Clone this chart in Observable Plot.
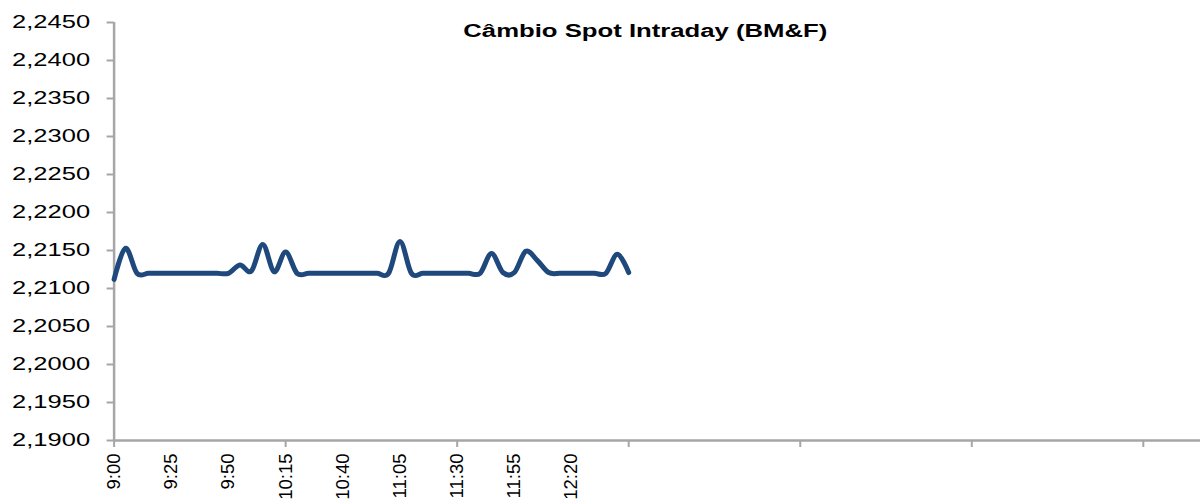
<!DOCTYPE html>
<html><head><meta charset="utf-8">
<script src="https://cdn.jsdelivr.net/npm/d3@7"></script>
<script src="https://cdn.jsdelivr.net/npm/@observablehq/plot@0.6"></script>
<style>
html,body{margin:0;padding:0;background:#fff;}
#chart svg g[aria-label="y-axis tick"], #chart svg g[aria-label="x-axis tick"] {stroke:#a6a6a6; stroke-width:2px;}
</style></head><body><div id="chart"></div>
<script>
const title = "Câmbio Spot Intraday (BM&F)";
const times = ["9:00","9:05","9:10","9:15","9:20","9:25","9:30","9:35","9:40","9:45",
  "9:50","9:55","10:00","10:05","10:10","10:15","10:20","10:25","10:30","10:35",
  "10:40","10:45","10:50","10:55","11:00","11:05","11:10","11:15","11:20","11:25",
  "11:30","11:35","11:40","11:45","11:50","11:55","12:00","12:05","12:10","12:15",
  "12:20","12:25","12:30","12:35","12:40","12:45"];
const values = [2.2112,2.2153,2.2120,2.2120,2.2120,2.2120,2.2120,2.2120,2.2120,2.2120,
  2.2120,2.2131,2.2123,2.2158,2.2122,2.2148,2.2120,2.2120,2.2120,2.2120,
  2.2120,2.2120,2.2120,2.2120,2.2120,2.2162,2.2120,2.2120,2.2120,2.2120,
  2.2120,2.2120,2.2120,2.2146,2.2121,2.2121,2.2149,2.2137,2.2121,2.2120,
  2.2120,2.2120,2.2120,2.2120,2.2145,2.2121];
const yTicks = [2.190,2.195,2.200,2.205,2.210,2.215,2.220,2.225,2.230,2.235,2.240,2.245];
const xLabelTimes = ["9:00","9:25","9:50","10:15","10:40","11:05","11:30","11:55","12:20"];
const xMajorTicks = ["9:00","10:15","11:30","12:45","14:00","15:15","16:30"];
const xDomain = ["9:00","16:55"];

const toMin = s => { const [h,m] = s.split(":").map(Number); return h*60+m; };
const fmtMin = v => `${Math.floor(v/60)}:${String(v%60).padStart(2,"0")}`;
const data = times.map((t,i) => ({t: toMin(t), v: values[i]}));

const chart = Plot.plot({
  width: 1201, height: 500,
  marginLeft: 113.6, marginRight: 1, marginTop: 22, marginBottom: 60,
  style: {fontFamily: "'Liberation Sans', Arial, sans-serif", color: "#000", background: "#fff", overflow: "visible"},
  x: {type: "linear", domain: xDomain.map(toMin)},
  y: {domain: [yTicks[0], yTicks[yTicks.length-1]]},
  marks: [
    Plot.axisY(yTicks, {tickSize: 7, tickPadding: 17, fontSize: 18.6, tickFormat: d => d.toFixed(4).replace(".", ","), label: null}),
    Plot.axisX(xMajorTicks.map(toMin), {tickSize: 7, tickFormat: () => "", label: null}),
    Plot.axisX(xLabelTimes.map(toMin), {tickSize: 0, tickPadding: 13, tickRotate: -90, fontSize: 18.5, tickFormat: fmtMin, label: null}),
    Plot.ruleY([yTicks[0]], {stroke: "#a6a6a6", strokeWidth: 2.5}),
    Plot.ruleX([toMin(xDomain[0])], {stroke: "#a6a6a6", strokeWidth: 2.5}),
    Plot.line(data, {x: "t", y: "v", stroke: "#1f497d", strokeWidth: 5, curve: "cardinal", strokeLinecap: "round", strokeLinejoin: "round"}),
    Plot.text([title], {frameAnchor: "top", dx: -12, dy: 9, lineAnchor: "middle", fontSize: 18, fontWeight: "bold", fill: "#000"})
  ]
});
document.getElementById("chart").append(chart);
chart.querySelectorAll('g[aria-label="y-axis tick label"] text').forEach(t => {
  t.setAttribute("textLength", 78); t.setAttribute("lengthAdjust", "spacingAndGlyphs");
});
chart.querySelectorAll('g[aria-label="text"] text').forEach(t => {
  t.setAttribute("textLength", 364); t.setAttribute("lengthAdjust", "spacingAndGlyphs");
});
</script>
</body></html>
